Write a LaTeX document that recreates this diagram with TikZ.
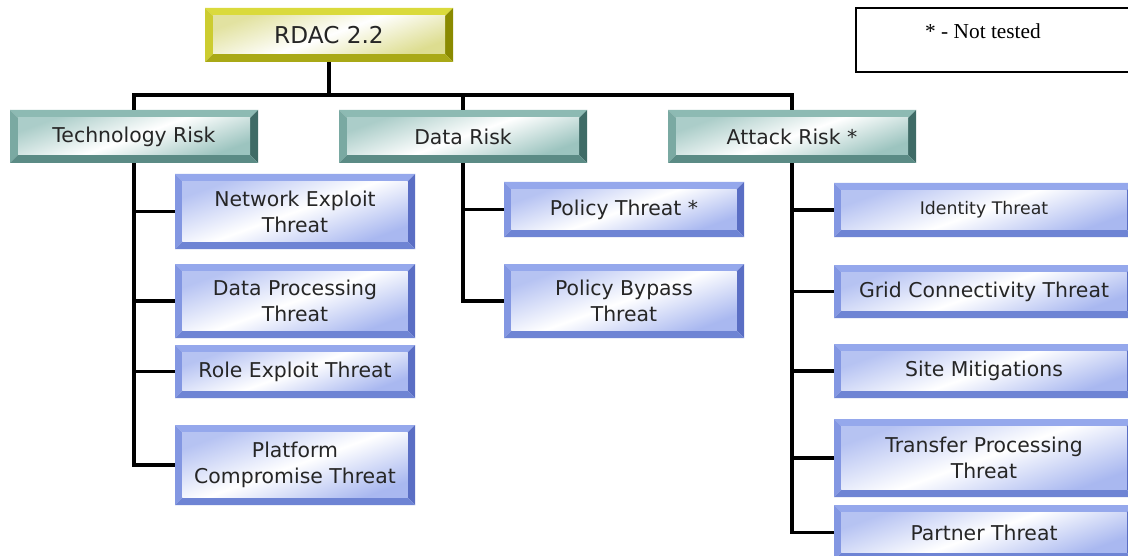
\documentclass[tikz,border=0pt]{standalone}
\usepackage{fontspec}
\setmainfont{DejaVu Sans}
\newfontfamily\legendfont{Liberation Serif}
\begin{document}
\begin{tikzpicture}[x=0.75pt,y=-0.75pt,
  bev/.style n args={6}{% top, left, right, bottom, face, bevel width
    rectangle, inner sep=0pt, align=center, text=black!85,
    font=\fontsize{15.3}{19.5}\selectfont,
    path picture={
      \path (path picture bounding box.north west) coordinate (@nw)
            (path picture bounding box.south east) coordinate (@se)
            (path picture bounding box.north east) coordinate (@ne)
            (path picture bounding box.south west) coordinate (@sw);
      \path ([shift={(#6,-#6)}]@nw) coordinate (@inw)
            ([shift={(-#6,#6)}]@se) coordinate (@ise)
            ([shift={(-#6,-#6)}]@ne) coordinate (@ine)
            ([shift={(#6,#6)}]@sw) coordinate (@isw);
      \fill[#1] (@nw) -- (@ne) -- (@ine) -- (@inw) -- cycle;
      \fill[#2] (@nw) -- (@inw) -- (@isw) -- (@sw) -- cycle;
      \fill[#3] (@ne) -- (@se) -- (@ise) -- (@ine) -- cycle;
      \fill[#4] (@sw) -- (@isw) -- (@ise) -- (@se) -- cycle;
      \shade[top color=#5!85, bottom color=#5, middle color=white, shading angle=20]
        (@inw) rectangle (@ise);
    }},
  bluebox/.style={bev={blueT}{blueL}{blueR}{blueB}{blueF}{5.5pt}},
  tealbox/.style={bev={tealT}{tealL}{tealR}{tealB}{tealF}{6pt}},
  yelbox/.style={bev={yelT}{yelL}{yelR}{yelB}{yelF}{6pt}},
  conn/.style={line width=2.3pt, black},
]
\definecolor{blueT}{HTML}{95A8EC}
\definecolor{blueL}{HTML}{8397E2}
\definecolor{blueR}{HTML}{5A6EC4}
\definecolor{blueB}{HTML}{6E84D4}
\definecolor{blueF}{HTML}{A9B8F0}
\definecolor{tealT}{HTML}{8DBAB3}
\definecolor{tealL}{HTML}{7AA9A2}
\definecolor{tealR}{HTML}{3F6B66}
\definecolor{tealB}{HTML}{5B8B85}
\definecolor{tealF}{HTML}{9CC4BF}
\definecolor{yelT}{HTML}{DADA3C}
\definecolor{yelL}{HTML}{CCCC30}
\definecolor{yelR}{HTML}{8A8A00}
\definecolor{yelB}{HTML}{A9A916}
\definecolor{yelF}{HTML}{DDDD90}
\useasboundingbox[fill=white] (0,0) rectangle (1128,556);

% legend
\node[draw=black, line width=0.9pt, minimum width=300*0.75pt, minimum height=64*0.75pt, inner sep=0pt] (legend) at (1006,40) {};
\node[font=\legendfont\fontsize{16}{18}\selectfont, anchor=center] (legendtext) at (983,31) {* - Not tested};

% top
\node[yelbox, minimum width=248*0.75pt, minimum height=54*0.75pt, font=\fontsize{17.4}{20}\selectfont] (rdac) at (329,35) {RDAC 2.2};

% level 1
\node[tealbox, minimum width=248*0.75pt, minimum height=53*0.75pt] (tech) at (134,136.5) {Technology Risk};
\node[tealbox, minimum width=248*0.75pt, minimum height=53*0.75pt] (data) at (463,136.5) {Data Risk};
\node[tealbox, minimum width=248*0.75pt, minimum height=53*0.75pt] (attack) at (792,136.5) {Attack Risk *};

% technology children
\node[bluebox, minimum width=240*0.75pt, minimum height=75*0.75pt] (net) at (295,211.5) {Network Exploit\\Threat};
\node[bluebox, minimum width=240*0.75pt, minimum height=74*0.75pt] (dproc) at (295,301) {Data Processing\\Threat};
\node[bluebox, minimum width=240*0.75pt, minimum height=53*0.75pt] (role) at (295,371.5) {Role Exploit Threat};
\node[bluebox, minimum width=240*0.75pt, minimum height=80*0.75pt] (plat) at (295,465) {Platform\\Compromise Threat};

% data children
\node[bluebox, minimum width=240*0.75pt, minimum height=55*0.75pt] (pol) at (624,209.5) {Policy Threat *};
\node[bluebox, minimum width=240*0.75pt, minimum height=74*0.75pt] (bypass) at (624,301) {Policy Bypass\\Threat};

% attack children
\node[bluebox, minimum width=300*0.75pt, minimum height=54*0.75pt, font=\fontsize{13}{15}\selectfont] (ident) at (984,210) {Identity Threat};
\node[bluebox, minimum width=300*0.75pt, minimum height=53*0.75pt] (grid) at (984,291.5) {Grid Connectivity Threat};
\node[bluebox, minimum width=300*0.75pt, minimum height=54*0.75pt] (site) at (984,371) {Site Mitigations};
\node[bluebox, minimum width=300*0.75pt, minimum height=78*0.75pt] (transfer) at (984,458) {Transfer Processing\\Threat};
\node[bluebox, minimum width=300*0.75pt, minimum height=55*0.75pt] (partner) at (984,532.5) {Partner Threat};

% connectors
\coordinate (bus) at (0,95);
\draw[conn] (rdac.south) -- (rdac.south |- bus);
\draw[conn] (tech.north) -- (tech.north |- bus) -- (attack.north |- bus) -- (attack.north);
\draw[conn] (data.north) -- (data.north |- bus);

\draw[conn] (tech.south) |- (net.west);
\draw[conn] (tech.south) |- (dproc.west);
\draw[conn] (tech.south) |- (role.west);
\draw[conn] (tech.south) |- (plat.west);

\draw[conn] (data.south) |- (pol.west);
\draw[conn] (data.south) |- (bypass.west);

\draw[conn] (attack.south) |- (ident.west);
\draw[conn] (attack.south) |- (grid.west);
\draw[conn] (attack.south) |- (site.west);
\draw[conn] (attack.south) |- (transfer.west);
\draw[conn] (attack.south) |- (partner.west);
\end{tikzpicture}
\end{document}
